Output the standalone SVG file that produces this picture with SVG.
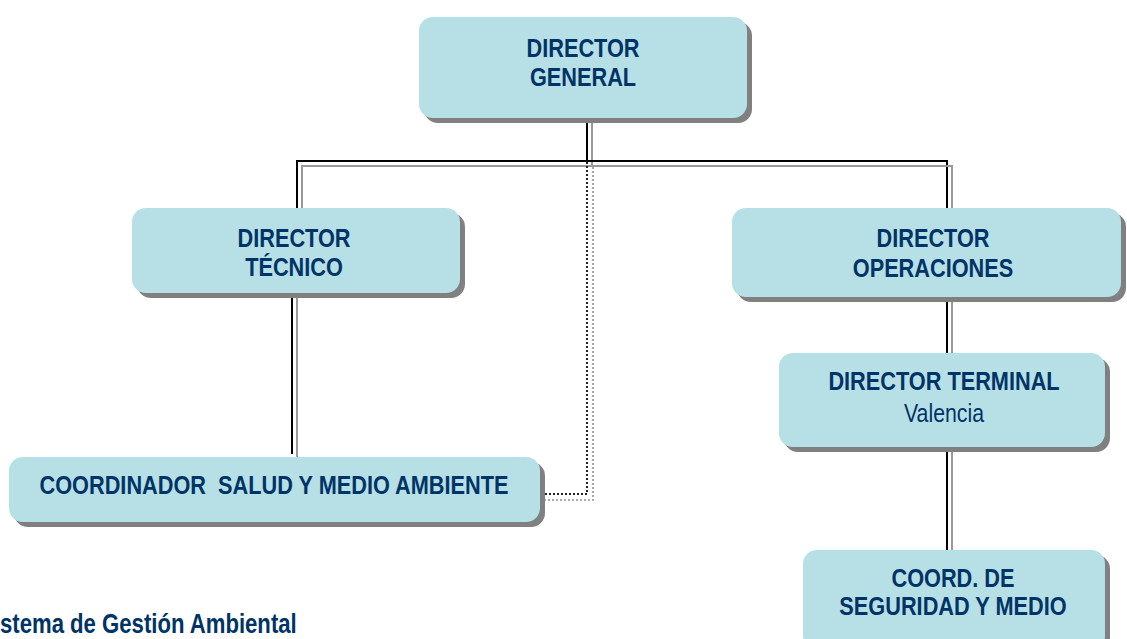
<svg xmlns="http://www.w3.org/2000/svg" width="1127" height="639" viewBox="0 0 1127 639">
<style>
.box{fill:#b7e0e6;}
.shd{fill:#808080;}
.t{font-family:"Liberation Sans",Arial,sans-serif;font-weight:bold;font-size:26.5px;fill:#003366;text-anchor:middle;}
.r{font-family:"Liberation Sans",Arial,sans-serif;font-weight:normal;font-size:26px;fill:#003366;text-anchor:middle;}
.k{stroke:#000;stroke-width:2;fill:none;}
.g{stroke:#999;stroke-width:2;fill:none;}
.kd{stroke:#222;stroke-width:2;fill:none;stroke-dasharray:2 2;}
.gd{stroke:#aaa;stroke-width:2;fill:none;stroke-dasharray:2 2;}
</style>
<rect width="1127" height="639" fill="#fff"/>
<g id="connectors">
<polyline class="k" points="587,123 587,161"/>
<polyline class="g" points="592,123 592,166"/>
<polyline class="k" points="297,208 297,161 947,161 947,208"/>
<polyline class="g" points="302,208 302,166 952,166 952,208"/>
<polyline class="k" points="292,298 292,454"/>
<polyline class="g" points="297,298 297,459"/>
<polyline class="k" points="947,302 947,353"/>
<polyline class="g" points="952,302 952,353"/>
<polyline class="k" points="947,452 947,550"/>
<polyline class="g" points="952,452 952,550"/>
<polyline class="kd" points="587,162 587,494 544,494"/>
<polyline class="gd" points="593,167 593,500 545,500"/>
</g>
<g id="director-general">
<rect class="shd" x="424" y="22" width="328" height="101" rx="14"/>
<rect class="box" x="419" y="17" width="328" height="101" rx="14"/>
<text class="t" transform="translate(583,57) scale(0.82,1)">DIRECTOR</text>
<text class="t" transform="translate(583,86) scale(0.82,1)">GENERAL</text>
</g>
<g id="director-tecnico">
<rect class="shd" x="137" y="213" width="328" height="85" rx="14"/>
<rect class="box" x="132" y="208" width="328" height="85" rx="14"/>
<text class="t" transform="translate(294,247) scale(0.82,1)">DIRECTOR</text>
<text class="t" transform="translate(294,276) scale(0.82,1)">TÉCNICO</text>
</g>
<g id="director-operaciones">
<rect class="shd" x="737" y="213" width="389" height="89" rx="14"/>
<rect class="box" x="732" y="208" width="389" height="89" rx="14"/>
<text class="t" transform="translate(933,247) scale(0.82,1)">DIRECTOR</text>
<text class="t" transform="translate(933,277) scale(0.82,1)">OPERACIONES</text>
</g>
<g id="director-terminal">
<rect class="shd" x="784" y="358" width="326" height="94" rx="14"/>
<rect class="box" x="779" y="353" width="326" height="94" rx="14"/>
<text class="t" transform="translate(944,390) scale(0.82,1)">DIRECTOR TERMINAL</text>
<text class="r" transform="translate(944,422) scale(0.82,1)">Valencia</text>
</g>
<g id="coordinador-salud">
<rect class="shd" x="14" y="462" width="531" height="65" rx="14"/>
<rect class="box" x="9" y="457" width="531" height="65" rx="14"/>
<text class="t" transform="translate(274,494) scale(0.82,1)" xml:space="preserve">COORDINADOR  SALUD Y MEDIO AMBIENTE</text>
</g>
<g id="coord-seguridad">
<rect class="shd" x="808" y="555" width="302" height="100" rx="14"/>
<rect class="box" x="803" y="550" width="302" height="100" rx="14"/>
<text class="t" transform="translate(953,587) scale(0.82,1)">COORD. DE</text>
<text class="t" transform="translate(953,615) scale(0.82,1)">SEGURIDAD Y MEDIO</text>
</g>
<g id="footer">
<text font-family="Liberation Sans,Arial,sans-serif" font-weight="bold" font-size="27" fill="#003366" transform="translate(0,633) scale(0.82,1)">stema de Gestión Ambiental</text>
</g>
</svg>
